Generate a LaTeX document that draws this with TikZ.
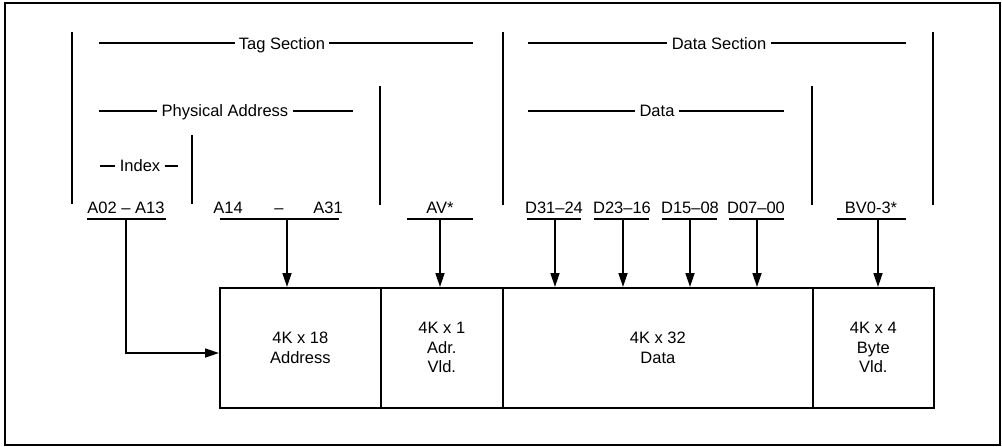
\documentclass[tikz,border=0pt]{standalone}
\usepackage{fontspec}
\setmainfont{Liberation Sans}
\usetikzlibrary{arrows.meta}
\begin{document}
\begin{tikzpicture}[x=1pt,y=-1pt,
  every path/.style={line width=1.7pt},
  txt/.style={font=\fontsize{16.5}{19.5}\selectfont, inner xsep=3.5pt, inner ysep=0pt, anchor=base},
  mem/.style={draw, line width=1.7pt, anchor=north west, minimum height=120pt, inner sep=0pt,
     font=\fontsize{16.5}{19.5}\selectfont, align=center},
  arr/.style={-{Triangle[length=14pt,width=9pt]}}]
\useasboundingbox (0,0) rectangle (1002,447);
\draw (5,3) rectangle (1000,445);

% --- section brackets
\draw (72,32) -- (72,204);
\draw (503,32) -- (503,205);
\draw (933,32) -- (933,205);
\draw (380,86) -- (380,205);
\draw (812,86) -- (812,205);
\draw (192,135) -- (192,204);

\node[txt] (tag) at (282,49) {Tag Section};
\coordinate (tagL) at (99,43); \coordinate (tagR) at (473,43);
\draw (tagL) -- (tag.west |- tagL);
\draw (tag.east |- tagR) -- (tagR);

\node[txt] (phy) at (225,116) {Physical Address};
\coordinate (phyL) at (99,111); \coordinate (phyR) at (353,111);
\draw (phyL) -- (phy.west |- phyL);
\draw (phy.east |- phyR) -- (phyR);

\node[txt] (idx) at (140,171) {Index};
\coordinate (idxL) at (100,166); \coordinate (idxR) at (178,166);
\draw (idxL) -- (idx.west |- idxL);
\draw (idx.east |- idxR) -- (idxR);

\node[txt] (dsec) at (719,49) {Data Section};
\coordinate (dsecL) at (528,43); \coordinate (dsecR) at (906,43);
\draw (dsecL) -- (dsec.west |- dsecL);
\draw (dsec.east |- dsecR) -- (dsecR);

\node[txt] (dat) at (657,116) {Data};
\coordinate (datL) at (528,111); \coordinate (datR) at (784,111);
\draw (datL) -- (dat.west |- datL);
\draw (dat.east |- datR) -- (datR);

% --- signal labels
\node[txt] (l0) at (126,213) {A02 -- A13};
\node[txt] (l1a) at (228,213) {A14};
\node[txt] (l1b) at (279,213) {--};
\node[txt] (l1c) at (328,213) {A31};
\node[txt] (l2) at (440,213) {AV*};
\node[txt] (l3) at (554,213) {D31--24};
\node[txt] (l4) at (622,213) {D23--16};
\node[txt] (l5) at (690,213) {D15--08};
\node[txt] (l6) at (756,213) {D07--00};
\node[txt] (l7) at (871,213) {BV0-3*};

\draw (87,219) -- (166,219);
\draw (220,219) -- (339,219);
\draw (407,219) -- (473,219);
\draw (527,219) -- (581,219);
\draw (594,219) -- (649,219);
\draw (662,219) -- (717,219);
\draw (729,219) -- (784,219);
\draw (837,219) -- (906,219);

% --- memory arrays
\node[mem, minimum width=161pt] (b1) at (219,287) {4K x 18\\Address};
\node[mem, minimum width=122pt] (b2) at (380,287) {4K x 1\\Adr.\\Vld.};
\node[mem, minimum width=310pt] (b3) at (502,287) {4K x 32\\Data};
\node[mem, minimum width=121pt] (b4) at (812,287) {4K x 4\\Byte\\Vld.};

% --- connectors
\coordinate (s0) at (126,219);
\coordinate (k0) at (126,353);
\draw[arr] (s0) -- (k0) -- (k0 -| b1.west);
\coordinate (s1) at (287,219); \draw[arr] (s1) -- (s1 |- b1.north);
\coordinate (s2) at (440,219); \draw[arr] (s2) -- (s2 |- b2.north);
\coordinate (s3) at (555,219); \draw[arr] (s3) -- (s3 |- b3.north);
\coordinate (s4) at (623,219); \draw[arr] (s4) -- (s4 |- b3.north);
\coordinate (s5) at (690,219); \draw[arr] (s5) -- (s5 |- b3.north);
\coordinate (s6) at (757,219); \draw[arr] (s6) -- (s6 |- b3.north);
\coordinate (s7) at (878,219); \draw[arr] (s7) -- (s7 |- b4.north);
\end{tikzpicture}
\end{document}
